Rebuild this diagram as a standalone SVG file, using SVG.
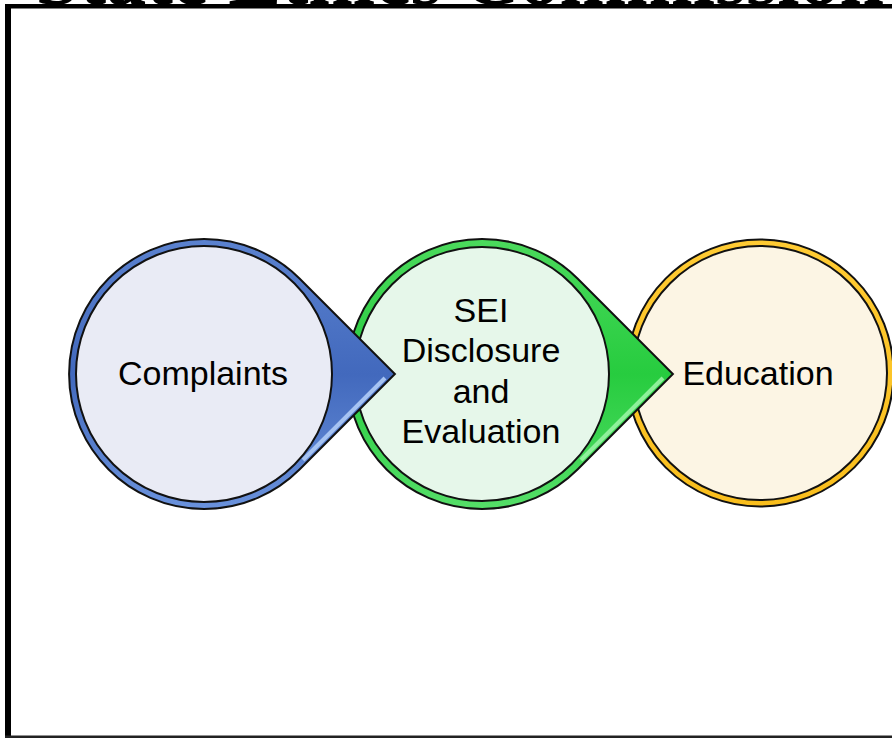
<svg xmlns="http://www.w3.org/2000/svg" width="892" height="739" viewBox="0 0 892 739">
<defs>
<style>
.lbl{font-family:"Liberation Sans","Arial",sans-serif;font-size:34px;fill:#000;text-anchor:middle}
.title{font-family:"Liberation Serif","Times New Roman",serif;font-size:80px;font-weight:bold;fill:#000}
.outline{stroke:#111;stroke-width:2}
</style>
<linearGradient id="gBlue" x1="0" y1="0" x2="0" y2="1">
<stop offset="0" stop-color="#5b82cf"/><stop offset="0.5" stop-color="#4269bd"/><stop offset="1" stop-color="#6a92dc"/>
</linearGradient>
<linearGradient id="gGreen" x1="0" y1="0" x2="0" y2="1">
<stop offset="0" stop-color="#4bd95c"/><stop offset="0.5" stop-color="#27cc3f"/><stop offset="1" stop-color="#55de68"/>
</linearGradient>
<linearGradient id="gYellow" x1="0" y1="0" x2="0" y2="1">
<stop offset="0" stop-color="#ffcb33"/><stop offset="1" stop-color="#f9be1c"/>
</linearGradient>
</defs>
<rect x="0" y="0" width="892" height="739" fill="#fff"/>
<text class="title" x="35" y="4">State Ethics Commission</text>
<g id="frame">
<rect x="5" y="4" width="887" height="734" fill="#fff"/>
<rect x="5" y="4" width="887" height="4.5" fill="#000"/>
<rect x="5" y="4" width="6" height="734" fill="#000"/>
<rect x="5" y="735.5" width="887" height="2.5" fill="#222"/>
</g>
<g id="node-education">
<circle cx="760" cy="373" r="133.5" fill="url(#gYellow)" class="outline"/>
<circle cx="760" cy="373" r="127" fill="#fcf5e4" class="outline"/>
<text class="lbl" x="758" y="385">Education</text>
</g>
<g id="node-sei">
<path d="M577.5 278.5 L672.9 374 L577.5 469.5 A135 135 0 1 1 577.5 278.5 Z" fill="url(#gGreen)" class="outline"/>
<path d="M663 378 L581 460" stroke="#8ff09b" stroke-width="4" fill="none"/>
<circle cx="482" cy="374" r="127" fill="#e6f7ea" class="outline"/>
<text class="lbl" x="481" y="322">SEI</text>
<text class="lbl" x="481" y="362">Disclosure</text>
<text class="lbl" x="481" y="403">and</text>
<text class="lbl" x="481" y="443">Evaluation</text>
</g>
<g id="node-complaints">
<path d="M299.5 278.5 L394.9 374 L299.5 469.5 A135 135 0 1 1 299.5 278.5 Z" fill="url(#gBlue)" class="outline"/>
<path d="M385 378 L303 460" stroke="#a6c3f2" stroke-width="4" fill="none"/>
<circle cx="204" cy="374" r="128" fill="#e9ebf5" class="outline"/>
<text class="lbl" x="203" y="385">Complaints</text>
</g>
<g id="connectors"></g>
</svg>
